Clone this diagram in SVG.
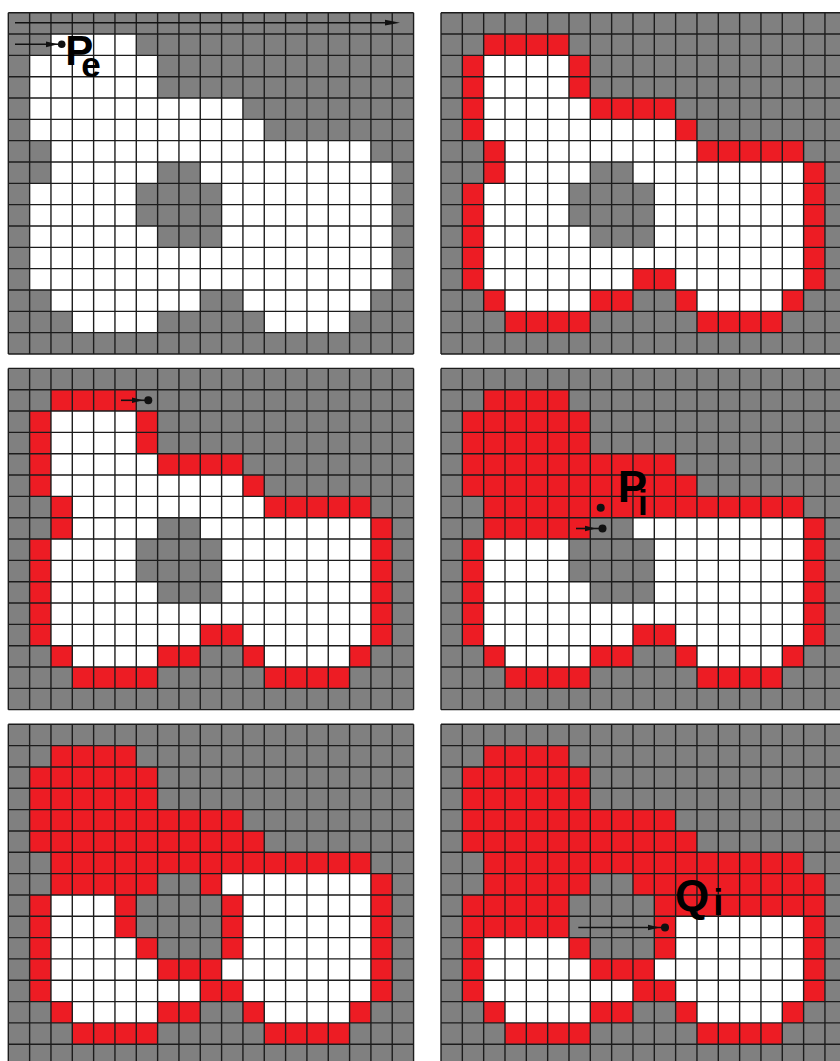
<svg xmlns="http://www.w3.org/2000/svg" xmlns:xlink="http://www.w3.org/1999/xlink" width="840" height="1061" viewBox="0 0 840 1061">
<style>
.g{fill:#808080}
.w{fill:#ffffff}
.r{fill:#ed1c24}
.grid{fill:none;stroke:#1c1c1c;stroke-width:0.065}
.ln{stroke:#111;stroke-width:1.6;fill:none}
.hd{fill:#111}
.lbl{font-family:"Liberation Sans",Arial,sans-serif;font-weight:bold;fill:#000}
</style>
<defs>
<path id="gridlines" d="M0 0V16M1 0V16M2 0V16M3 0V16M4 0V16M5 0V16M6 0V16M7 0V16M8 0V16M9 0V16M10 0V16M11 0V16M12 0V16M13 0V16M14 0V16M15 0V16M16 0V16M17 0V16M18 0V16M19 0V16M0 0H19M0 1H19M0 2H19M0 3H19M0 4H19M0 5H19M0 6H19M0 7H19M0 8H19M0 9H19M0 10H19M0 11H19M0 12H19M0 13H19M0 14H19M0 15H19M0 16H19"/>
<path id="obj" d="M2 1h4v1h-4z M1 2h6v2h-6z M1 4h10v1h-10z M1 5h11v1h-11z M2 6h15v1h-15z M2 7h5v1h-5z M9 7h9v1h-9z M1 8h5v2h-5z M10 8h8v2h-8z M1 10h6v1h-6z M10 10h8v1h-8z M1 11h17v2h-17z M2 13h7v1h-7z M11 13h6v1h-6z M3 14h4v1h-4z M12 14h4v1h-4z"/>
<path id="outer" d="M2 1h4v1h-4z M1 2h1v2h-1z M6 2h1v2h-1z M1 4h1v2h-1z M7 4h4v1h-4z M11 5h1v1h-1z M2 6h1v2h-1z M12 6h5v1h-5z M17 7h1v6h-1z M1 8h1v5h-1z M9 12h2v1h-2z M2 13h1v1h-1z M7 13h2v1h-2z M11 13h1v1h-1z M16 13h1v1h-1z M3 14h4v1h-4z M12 14h4v1h-4z"/>
<path id="fillA" d="M2 1h4v1h-4z M1 2h6v2h-6z M1 4h10v1h-10z M1 5h11v1h-11z M2 6h15v1h-15z M2 7h5v1h-5z"/>
<path id="inner" d="M9 7h1v1h-1z M5 8h1v2h-1z M10 8h1v3h-1z M6 10h1v1h-1z M7 11h3v1h-3z"/>
<path id="fillB" d="M9 7h9v1h-9z M1 8h5v1h-5z M10 8h8v1h-8z M1 9h5v1h-5z"/>
</defs>
<rect width="840" height="1061" fill="#ffffff"/>

<g id="panel1" transform="translate(8.3 12.7)">
 <g transform="scale(21.33)">
  <rect class="g" width="19" height="16"/>
  <use xlink:href="#obj" class="w"/>
  <use xlink:href="#gridlines" class="grid"/>
 </g>
 <text class="lbl" x="57" y="52.5" font-size="42">P<tspan dx="-12" dy="12" font-size="35">e</tspan></text>
</g>

<g id="panel2" transform="translate(441 12.7)">
 <g transform="scale(21.33)">
  <rect class="g" width="19" height="16"/>
  <use xlink:href="#obj" class="w"/>
  <use xlink:href="#outer" class="r"/>
  <use xlink:href="#gridlines" class="grid"/>
 </g>
</g>

<g id="panel3" transform="translate(8.3 368.4)">
 <g transform="scale(21.33)">
  <rect class="g" width="19" height="16"/>
  <use xlink:href="#obj" class="w"/>
  <use xlink:href="#outer" class="r"/>
  <use xlink:href="#gridlines" class="grid"/>
 </g>
</g>

<g id="panel4" transform="translate(441 368.4)">
 <g transform="scale(21.33)">
  <rect class="g" width="19" height="16"/>
  <use xlink:href="#obj" class="w"/>
  <use xlink:href="#outer" class="r"/>
  <use xlink:href="#fillA" class="r"/>
  <use xlink:href="#gridlines" class="grid"/>
 </g>
 <text class="lbl" x="176.7" y="133.6" font-size="44">P<tspan dx="-9" dy="13" font-size="35">i</tspan></text>
</g>

<g id="panel5" transform="translate(8.3 724.3)">
 <g transform="scale(21.33)">
  <rect class="g" width="19" height="16"/>
  <use xlink:href="#obj" class="w"/>
  <use xlink:href="#outer" class="r"/>
  <use xlink:href="#fillA" class="r"/>
  <use xlink:href="#inner" class="r"/>
  <use xlink:href="#gridlines" class="grid"/>
 </g>
</g>

<g id="panel6" transform="translate(441 724.3)">
 <g transform="scale(21.33)">
  <rect class="g" width="19" height="16"/>
  <use xlink:href="#obj" class="w"/>
  <use xlink:href="#outer" class="r"/>
  <use xlink:href="#fillA" class="r"/>
  <use xlink:href="#inner" class="r"/>
  <use xlink:href="#fillB" class="r"/>
  <use xlink:href="#gridlines" class="grid"/>
 </g>
 <text class="lbl" x="234" y="187.2" font-size="44">Q<tspan dx="4" dy="3.5" font-size="36">i</tspan></text>
</g>

<g id="connectors">
 <line class="ln" x1="15" y1="22.7" x2="388" y2="22.7"/>
 <polygon class="hd" points="385,19.8 400,22.7 385,25.6"/>
 <line class="ln" x1="15" y1="44.3" x2="58" y2="44.3"/>
 <polygon class="hd" points="46,41.4 58,44.3 46,47.2"/>
 <circle class="hd" cx="61.7" cy="44.3" r="3.8"/>

 <line class="ln" x1="121" y1="400.3" x2="146" y2="400.3"/>
 <polygon class="hd" points="132,397.6 143,400.3 132,403"/>
 <circle class="hd" cx="148.3" cy="400.3" r="4"/>

 <circle class="hd" cx="600.7" cy="507.8" r="4"/>
 <line class="ln" x1="576" y1="528.5" x2="600" y2="528.5"/>
 <polygon class="hd" points="585,525.8 596,528.5 585,531.2"/>
 <circle class="hd" cx="602.5" cy="528.5" r="4"/>

 <line class="ln" x1="578.3" y1="927.5" x2="662" y2="927.5"/>
 <polygon class="hd" points="648,924.7 660,927.5 648,930.3"/>
 <circle class="hd" cx="665" cy="927.5" r="4"/>
</g>
</svg>
